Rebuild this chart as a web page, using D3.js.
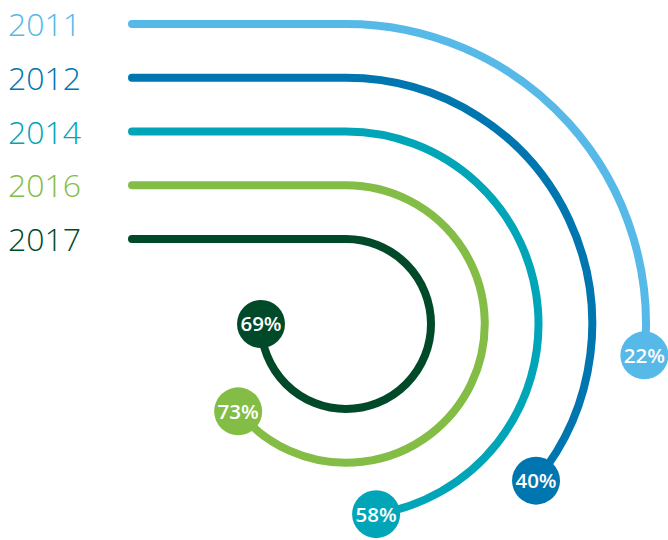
<!DOCTYPE html>
<html>
<head>
<meta charset="utf-8">
<script src="https://cdn.jsdelivr.net/npm/d3@7"></script>
<style>
  html, body { margin: 0; padding: 0; background: #ffffff; }
  svg { display: block; }
</style>
</head>
<body>
<svg id="chart" width="668" height="540"></svg>
<script>
// ---- data ----
const years = ["2011", "2012", "2014", "2016", "2017"];
const percents = [22, 40, 58, 73, 69];
const sweepDeg = [96, 129.5, 171, 231, 270];   // arc length of each ribbon, degrees clockwise from top
const colors = ["#56b9e8", "#0076b0", "#00a5b8", "#84bd45", "#004a2a"];

// ---- layout ----
const W = 668, H = 540;
const cx = 346, cy = 324;
const lineStartX = 132;

const svg = d3.select("#chart");

// y position of each horizontal lead-in (top of each ring)
const yScale = d3.scalePoint().domain(years).range([24, 239]);
const radius = y => cy - yScale(y);
const angle = d3.scaleLinear().domain([0, 360]).range([0, 2 * Math.PI]);
const color = d3.scaleOrdinal().domain(years).range(colors);

const data = years.map((y, i) => ({ year: y, pct: percents[i], sweep: sweepDeg[i] }));

const g = svg.append("g");

data.forEach(d => {
  const r = radius(d.year);
  const y0 = yScale(d.year);
  const a1 = -Math.PI / 2 + angle(d.sweep);
  const p = d3.path();
  p.moveTo(lineStartX, y0);
  p.lineTo(cx, y0);
  p.arc(cx, cy, r, -Math.PI / 2, a1, false);

  g.append("path")
    .attr("d", p.toString())
    .attr("fill", "none")
    .attr("stroke", color(d.year))
    .attr("stroke-width", 8)
    .attr("stroke-linecap", "round");

  const ex = cx + r * Math.cos(a1);
  const ey = cy + r * Math.sin(a1);
  g.append("circle")
    .attr("cx", ex).attr("cy", ey).attr("r", 24)
    .attr("fill", color(d.year));
  g.append("text")
    .attr("x", ex).attr("y", ey)
    .attr("text-anchor", "middle")
    .attr("dy", "0.36em")
    .attr("fill", "#ffffff")
    .attr("font-family", "'Open Sans', 'Noto Sans', sans-serif")
    .attr("font-weight", 600)
    .attr("font-size", 20.5)
    .text(d.pct + "%");

  g.append("text")
    .attr("x", 8).attr("y", y0 + 12)
    .attr("fill", color(d.year))
    .attr("font-family", "'Open Sans', 'Noto Sans', sans-serif")
    .attr("font-weight", 300)
    .attr("font-size", 32)
    .text(d.year);
});
</script>
</body>
</html>
